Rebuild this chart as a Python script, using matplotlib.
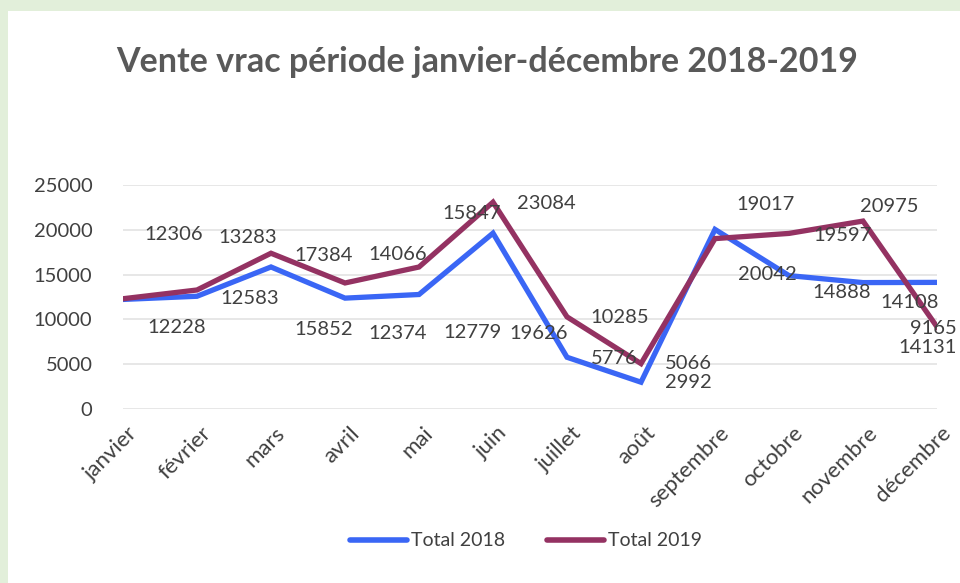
import matplotlib
matplotlib.use("Agg")
import matplotlib.pyplot as plt
from matplotlib.patches import Rectangle
from matplotlib.transforms import ScaledTranslation

months = ["janvier", "février", "mars", "avril", "mai", "juin", "juillet",
          "août", "septembre", "octobre", "novembre", "décembre"]
total_2018 = [12228, 12583, 15852, 12374, 12779, 19626, 5776, 2992,
              20042, 14888, 14108, 14131]
total_2019 = [12306, 13283, 17384, 14066, 15847, 23084, 10285, 5066,
              19017, 19597, 20975, 9165]

# label offsets (pixels) relative to each point, as rendered in the reference
off_2018 = [(54, -28), (53, -2), (53, -63), (53, -35), (53, -38), (46, -100),
            (47, -1), (47, 0), (52, -45), (53, -17), (47, -20), (-9, -65)]
off_2019 = [(51, 64), (51, 52), (53, -2), (53, 28), (53, 54), (53, -1),
            (53, -1), (47, 0), (50, 34), (53, -2), (26, 15), (-4, -2)]

C18 = "#3A66F5"
C19 = "#943262"
TXT = "#404040"

plt.rcParams['font.family'] = ['Lato', 'DejaVu Sans']

fig = plt.figure(figsize=(9.6, 5.83), dpi=100)
fig.patch.set_facecolor("#E2EFDA")
fig.patches.append(Rectangle((8 / 960, 0), 1, 1 - 10.5 / 583,
                             transform=fig.transFigure, facecolor="white",
                             edgecolor="none", zorder=-5))

ax = fig.add_axes([123 / 960, 1 - 409 / 583, (937 - 123) / 960, (409 - 185) / 583])
ax.set_zorder(2)
ax.set_facecolor("none")
x = list(range(len(months)))
l1, = ax.plot(x, total_2018, color=C18, lw=3.8, label="Total 2018",
              solid_joinstyle="miter", zorder=3)
l2, = ax.plot(x, total_2019, color=C19, lw=3.8, label="Total 2019",
              solid_joinstyle="miter", zorder=4)

for xi, v, (dx, dy) in zip(x, total_2018, off_2018):
    ax.annotate(f"{v}", (xi, v), xytext=(dx, dy), textcoords="offset pixels",
                ha="center", va="center", fontsize=14.5, color=TXT,
                annotation_clip=False, zorder=5)
for xi, v, (dx, dy) in zip(x, total_2019, off_2019):
    ax.annotate(f"{v}", (xi, v), xytext=(dx, dy), textcoords="offset pixels",
                ha="center", va="center", fontsize=14.5, color=TXT,
                annotation_clip=False, zorder=5)

ax.set_xlim(0, 11)
ax.set_ylim(0, 25000)
yt = [0, 5000, 10000, 15000, 20000, 25000]
ax.set_yticks(yt)
ax.set_yticklabels([str(t) for t in yt])
ax.grid(axis="y", color="#E3E3E3", lw=1.2)
ax.set_axisbelow(True)
for s in ax.spines.values():
    s.set_visible(False)
ax.tick_params(axis="both", length=0, labelsize=14.5, labelcolor=TXT)
ax.tick_params(axis="y", pad=22)
ax.set_xticks(x)
ax.set_xticklabels(months, rotation=45, ha="right", va="top",
                   rotation_mode="anchor", fontsize=16)
ax.tick_params(axis="x", pad=10)
shift = ScaledTranslation(4 / 100, 0, fig.dpi_scale_trans)
for lab in ax.get_xticklabels():
    lab.set_transform(lab.get_transform() + shift)

fig.text(487 / 960, 1 - 62 / 583, "Vente vrac période janvier-décembre 2018-2019",
         ha="center", va="center", fontsize=24.5, fontweight="bold", color="#595959")

leg = fig.legend(handles=[l1, l2], loc="center", bbox_to_anchor=(526 / 960, 1 - 541 / 583),
                 ncol=2, frameon=False, fontsize=14, handlelength=2.9,
                 handletextpad=0.2, columnspacing=2.2, labelcolor=TXT)
for h in leg.legend_handles:
    h.set_linewidth(4)
    h.set_solid_capstyle("round")

fig.savefig("out.png", dpi=100, facecolor=fig.get_facecolor())
